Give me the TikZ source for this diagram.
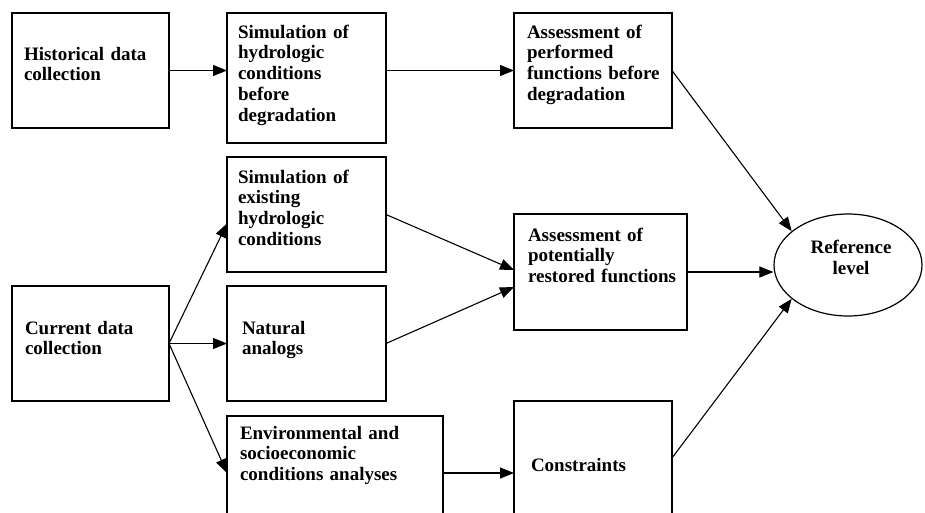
\documentclass[tikz,border=0pt]{standalone}
\usepackage{fontspec}
\setmainfont{Liberation Serif}
\usetikzlibrary{arrows.meta,shapes.geometric}
\begin{document}
\begin{tikzpicture}[x=1pt,y=-1pt,
  box/.style={draw, line width=1.2pt, rectangle, inner sep=0pt, outer sep=0pt, anchor=north west},
  txt/.style={anchor=base west, inner sep=0pt, outer sep=0pt, text width=#1, align=left,
    font=\bfseries\fontsize{19}{20.8}\selectfont},
  conn/.style={line width=1.1pt, -{Triangle[length=14pt,width=11pt]}}]
\useasboundingbox (0,0) rectangle (925,512);
\clip (0,0) rectangle (925,512);
% boxes
\node[box, minimum width=157, minimum height=115] (hist) at (12,13) {};
\node[box, minimum width=159, minimum height=130] (simB) at (227,13) {};
\node[box, minimum width=158, minimum height=115] (assB) at (514,13) {};
\node[box, minimum width=159, minimum height=115] (simE) at (227,157) {};
\node[box, minimum width=173, minimum height=116] (assP) at (514,214) {};
\node[box, minimum width=157, minimum height=115] (cur) at (12,286) {};
\node[box, minimum width=159, minimum height=115] (nat) at (227,286) {};
\node[box, minimum width=216, minimum height=114] (env) at (227,416) {};
\node[box, minimum width=158, minimum height=130] (con) at (514,401) {};
\node[draw, line width=1.2pt, ellipse, inner sep=0pt, minimum width=148, minimum height=102] (ref) at (848,265) {};
% texts
\node[txt=150pt] (histT) at (24,60) {Historical data\\collection};
\node[txt=150pt] (simBT) at (238,38) {Simulation of\\hydrologic\\conditions\\before\\degradation};
\node[txt=150pt] (assBT) at (527,38) {Assessment of\\performed\\functions before\\degradation};
\node[txt=150pt] (simET) at (238,183) {Simulation of\\existing\\hydrologic\\conditions};
\node[txt=160pt] (assPT) at (528,241) {Assessment of\\potentially\\restored functions};
\node[txt=150pt] (curT) at (25,334) {Current data\\collection};
\node[txt=150pt] (natT) at (242,334) {Natural\\analogs};
\node[txt=200pt] (envT) at (240,439) {Environmental and\\socioeconomic\\conditions analyses};
\node[txt=150pt] (conT) at (531,471) {Constraints};
\node[anchor=base, inner sep=0pt, align=center, font=\bfseries\fontsize{19}{20.8}\selectfont] (refT) at (851,274) {Reference\\level};
% connectors
\draw[conn] (hist.east) -- (hist.east -| simB.west);
\draw[conn] (simB.east |- assB.west) -- (assB.west);
\draw[conn] (assB.east) -- (ref.149);
\draw[conn] (cur.east) -- ([yshift=-9pt]simE.west);
\draw[conn] (cur.east) -- (nat.west);
\draw[conn] (cur.east) -- (env.west);
\draw[conn] (simE.east) -- ([yshift=2pt]assP.west);
\draw[conn] (nat.east) -- ([yshift=-15pt]assP.west);
\draw[conn] (env.east) -- (env.east -| con.west);
\draw[conn] (assP.east) -- (assP.east -| ref.west);
\draw[conn] ([yshift=8pt]con.east) -- (ref.211);
\end{tikzpicture}
\end{document}
